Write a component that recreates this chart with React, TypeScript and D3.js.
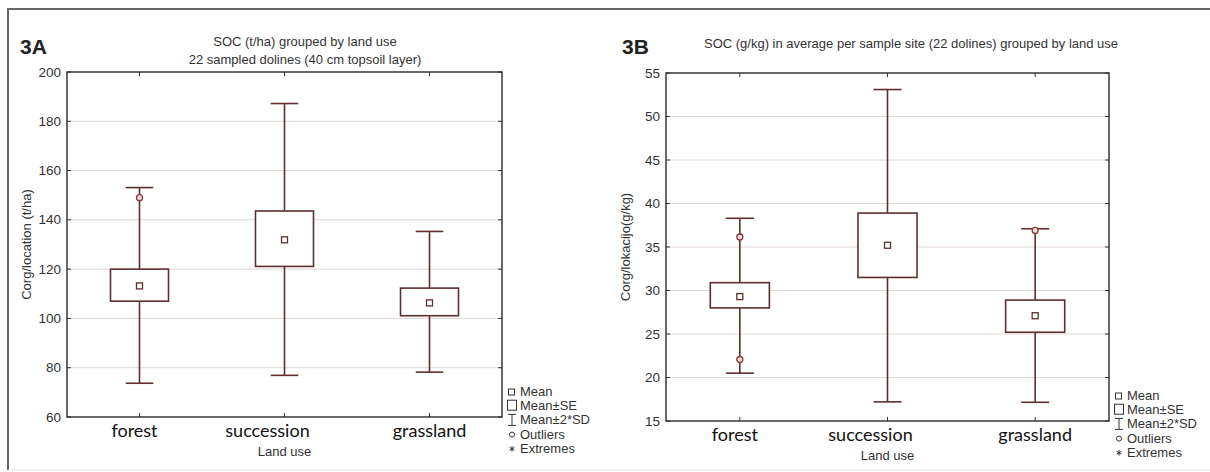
import React from 'react';
import * as d3 from 'd3';

const landUse = ['forest', 'succession', 'grassland'];

// 3A - SOC (t/ha)
const meanA = [113.2, 131.9, 106.3];
const seLowA = [107.0, 121.1, 101.1];
const seHighA = [120.0, 143.6, 112.3];
const sdLowA = [73.7, 76.9, 78.2];
const sdHighA = [153.1, 187.2, 135.3];
const outlierGroupA = ['forest'];
const outlierValueA = [149];
const ticksA = [60, 80, 100, 120, 140, 160, 180, 200];

// 3B - SOC (g/kg)
const meanB = [29.3, 35.2, 27.1];
const seLowB = [28.0, 31.5, 25.2];
const seHighB = [30.9, 38.9, 28.9];
const sdLowB = [20.5, 17.2, 17.15];
const sdHighB = [38.3, 53.1, 37.1];
const outlierGroupB = ['forest', 'forest', 'grassland'];
const outlierValueB = [36.15, 22.07, 36.9];
const ticksB = [15, 20, 25, 30, 35, 40, 45, 50, 55];

const legendItems = ['Mean', 'Mean±SE', 'Mean±2*SD', 'Outliers', 'Extremes'];

const narrow = "'Liberation Sans Narrow', 'Arial Narrow', 'Liberation Sans', sans-serif";
const ink = '#5e2f2f';
const textCol = '#333333';
// category labels in the picture sit a bit left of their ticks
const labelNudge = [-5, -17, 0];

type PanelProps = {
  tag: string;
  tagX: number;
  titleLines: string[];
  titleX: number;
  titleY: number;
  yLabel: string;
  ticks: number[];
  mean: number[];
  seLow: number[];
  seHigh: number[];
  sdLow: number[];
  sdHigh: number[];
  outGroup: string[];
  outValue: number[];
  x0: number;
  x1: number;
  y0: number;
  y1: number;
};

const Panel = (p: PanelProps) => {
  const x = d3.scaleBand().domain(landUse).range([p.x0, p.x1]).padding(0);
  const y = d3.scaleLinear().domain(d3.extent(p.ticks) as [number, number]).range([p.y1, p.y0]);
  const bw = x.bandwidth();
  const boxW = bw * 0.4;
  const capW = bw * 0.19;
  const cx = (g: string) => (x(g) as number) + bw / 2;

  const legX = p.x1 + 9;
  const legY0 = p.y1 - 21;
  const legStep = 14.2;
  const asterisk = d3.symbol(d3.symbolAsterisk, 22)();
  const circle = d3.symbol(d3.symbolCircle, 20)();

  return (
    <g>
      <text x={p.tagX} y={54} fontFamily="'Liberation Sans', Arial, sans-serif" fontWeight="bold"
        fontSize={21} fill="#222">{p.tag}</text>
      {p.titleLines.map((t, i) => (
        <text key={t} x={p.titleX} y={p.titleY + i * 17.5} textAnchor="middle" fontFamily={narrow}
          fontSize={13} fill={textCol}>{t}</text>
      ))}

      {/* grid */}
      {p.ticks.slice(1, -1).map(t => (
        <line key={'g' + t} x1={p.x0} x2={p.x1} y1={y(t)} y2={y(t)} stroke="#e2d6d6" strokeWidth={1} />
      ))}

      {/* y ticks + labels */}
      {p.ticks.map(t => (
        <g key={'t' + t}>
          <line x1={p.x0} x2={p.x0 + 4} y1={y(t)} y2={y(t)} stroke="#333" strokeWidth={1} />
          <line x1={p.x1 - 4} x2={p.x1} y1={y(t)} y2={y(t)} stroke="#333" strokeWidth={1} />
          <text x={p.x0 - 6} y={y(t) + 4.5} textAnchor="end" fontFamily={narrow} fontSize={13.5}
            fill={textCol}>{t}</text>
        </g>
      ))}

      {/* category ticks */}
      {landUse.map(g => (
        <g key={'c' + g}>
          <line x1={cx(g)} x2={cx(g)} y1={p.y0} y2={p.y0 + 4} stroke="#333" strokeWidth={1} />
          <line x1={cx(g)} x2={cx(g)} y1={p.y1 - 4} y2={p.y1} stroke="#333" strokeWidth={1} />
        </g>
      ))}

      <rect x={p.x0} y={p.y0} width={p.x1 - p.x0} height={p.y1 - p.y0} fill="none" stroke="#2a2a2a"
        strokeWidth={1.4} />

      {/* whiskers */}
      {landUse.map((g, i) => (
        <g key={'w' + g} stroke={ink} strokeWidth={1.6}>
          <line x1={cx(g)} x2={cx(g)} y1={y(p.sdHigh[i])} y2={y(p.sdLow[i])} />
          <line x1={cx(g) - capW / 2} x2={cx(g) + capW / 2} y1={y(p.sdHigh[i])} y2={y(p.sdHigh[i])} />
          <line x1={cx(g) - capW / 2} x2={cx(g) + capW / 2} y1={y(p.sdLow[i])} y2={y(p.sdLow[i])} />
        </g>
      ))}

      {/* boxes */}
      {landUse.map((g, i) => (
        <rect key={'b' + g} x={cx(g) - boxW / 2} y={y(p.seHigh[i])} width={boxW}
          height={y(p.seLow[i]) - y(p.seHigh[i])} fill="#fff" stroke={ink} strokeWidth={1.6} />
      ))}

      {/* means */}
      {landUse.map((g, i) => (
        <rect key={'m' + g} x={cx(g) - 3} y={y(p.mean[i]) - 3} width={6} height={6} fill="#fff"
          stroke={ink} strokeWidth={1.3} />
      ))}

      {/* outliers */}
      {p.outValue.map((v, i) => (
        <circle key={'o' + i} cx={cx(p.outGroup[i])} cy={y(v)} r={3} fill="#f3dede" stroke="#8a3a3a"
          strokeWidth={1.3} />
      ))}

      {/* category labels */}
      {landUse.map((g, i) => (
        <text key={'l' + g} x={cx(g) + labelNudge[i]} y={p.y1 + 20} textAnchor="middle"
          fontFamily="Lato, 'Open Sans', sans-serif" fontSize={18} fill="#111">{g}</text>
      ))}
      <text x={cx('succession')} y={p.y1 + 39} textAnchor="middle" fontFamily={narrow} fontSize={13}
        fill={textCol}>Land use</text>

      <text transform={`translate(${p.x0 - 36},${(p.y0 + p.y1) / 2}) rotate(-90)`} textAnchor="middle"
        fontFamily={narrow} fontSize={13} fill={textCol}>{p.yLabel}</text>

      {/* legend */}
      {legendItems.map((t, i) => {
        const ly = legY0 + i * legStep;
        let sym;
        if (i === 0) sym = <rect x={legX - 2.5} y={ly - 7} width={6} height={6} fill="#fff" stroke="#333" strokeWidth={1} />;
        else if (i === 1) sym = <rect x={legX - 3.5} y={ly - 10} width={9} height={10} fill="#fff" stroke="#333" strokeWidth={1} />;
        else if (i === 2) sym = (
          <path d={`M${legX - 3},${ly - 10}H${legX + 5}M${legX + 1},${ly - 10}V${ly + 1}M${legX - 3},${ly + 1}H${legX + 5}`}
            fill="none" stroke="#333" strokeWidth={1} />
        );
        else if (i === 3) sym = <path d={circle as string} transform={`translate(${legX + 1},${ly - 4})`} fill="#fff" stroke="#333" strokeWidth={1} />;
        else sym = <path d={asterisk as string} transform={`translate(${legX + 1},${ly - 4})`} fill="none" stroke="#333" strokeWidth={1} />;
        return (
          <g key={t}>
            {sym}
            <text x={legX + 9} y={ly} fontFamily={narrow} fontSize={13} fill={textCol}>{t}</text>
          </g>
        );
      })}
    </g>
  );
};

const App = () => {
  return (
    <svg width={1210} height={472} style={{ position: 'absolute', left: 0, top: 0, background: '#fff' }}>
      <rect x={0} y={0} width={1210} height={472} fill="#fff" />
      <line x1={8} x2={1210} y1={9} y2={9} stroke="#666" strokeWidth={2} />
      <line x1={8} x2={8} y1={8} y2={470} stroke="#666" strokeWidth={2} />
      <line x1={8} x2={1210} y1={470} y2={470} stroke="#e0e0e0" strokeWidth={1} />
      <Panel tag="3A" tagX={20} titleLines={['SOC (t/ha) grouped by land use', '22 sampled dolines (40 cm topsoil layer)']}
        titleX={305} titleY={46} yLabel="Corg/location (t/ha)" ticks={ticksA}
        mean={meanA} seLow={seLowA} seHigh={seHighA} sdLow={sdLowA} sdHigh={sdHighA}
        outGroup={outlierGroupA} outValue={outlierValueA} x0={67} x1={502} y0={72} y1={417} />
      <Panel tag="3B" tagX={622} titleLines={['SOC (g/kg) in average per sample site (22 dolines) grouped by land use']}
        titleX={911} titleY={48} yLabel="Corg/lokacijo(g/kg)" ticks={ticksB}
        mean={meanB} seLow={seLowB} seHigh={seHighB} sdLow={sdLowB} sdHigh={sdHighB}
        outGroup={outlierGroupB} outValue={outlierValueB} x0={666} x1={1109} y0={73} y1={421} />
    </svg>
  );
};

export default App;
